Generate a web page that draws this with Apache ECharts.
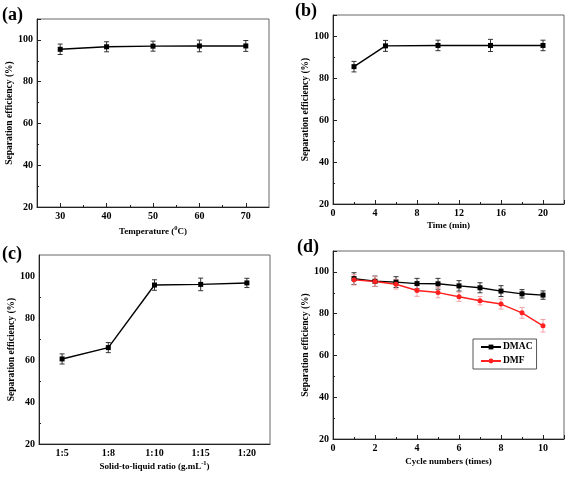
<!DOCTYPE html>
<html><head><meta charset="utf-8">
<script src="https://cdn.jsdelivr.net/npm/echarts@6/dist/echarts.min.js"></script>
<style>html,body{margin:0;padding:0;background:#fff}#c{width:567px;height:477px}</style>
</head><body><div id="c"></div>
<script>
// (a) Temperature
const tempX = [30, 40, 50, 60, 70];
const tempMinorTicks = [35, 45, 55, 65];
const tempY = [95.5, 96.7, 97.0, 97.1, 97.1];
const tempErr = [2.5, 2.4, 2.4, 2.8, 2.6];
// (b) Time
const timeX = [2, 5, 10, 15, 20];
const timeY = [85.4, 95.3, 95.5, 95.5, 95.5];
const timeErr = [2.5, 2.6, 2.5, 2.9, 2.5];
// (c) Solid-to-liquid ratio
const ratioCats = ['1:5', '1:8', '1:10', '1:15', '1:20'];
const ratioY = [60.5, 65.9, 95.7, 96.0, 96.7];
const ratioErr = [2.4, 2.4, 2.5, 3.0, 2.2];
// (d) Cycles
const cycleX = [1, 2, 3, 4, 5, 6, 7, 8, 9, 10];
const dmacY = [96.8, 95.5, 95.1, 94.4, 94.3, 93.3, 92.4, 90.8, 89.5, 88.9];
const dmacErr = [2.8, 2.5, 2.6, 2.5, 2.6, 2.5, 2.4, 2.6, 2.0, 2.0];
const dmfY = [96.2, 95.4, 94.1, 91.1, 90.1, 88.1, 86.2, 84.6, 80.4, 74.2];
const dmfErr = [2.5, 2.3, 2.3, 2.8, 2.5, 2.2, 2.0, 2.4, 2.6, 3.0];
const yTickLabels = [20, 40, 60, 80, 100];

const FF = '"Liberation Serif","Times New Roman",serif';
const chart = echarts.init(document.getElementById('c'), null, {renderer: 'canvas'});

function errSeries(xi, xs, ys, es, color, z) {
  return {
    type: 'custom', xAxisIndex: xi, yAxisIndex: xi, z: z, silent: true,
    data: xs.map((x, i) => [x, ys[i] - es[i], ys[i] + es[i]]),
    renderItem: function (params, api) {
      const x = api.value(0);
      const p1 = api.coord([x, api.value(1)]);
      const p2 = api.coord([x, api.value(2)]);
      const w = 2.5, st = {stroke: color, lineWidth: 1};
      return {type: 'group', children: [
        {type: 'line', shape: {x1: p1[0], y1: p1[1], x2: p2[0], y2: p2[1]}, style: st},
        {type: 'line', shape: {x1: p1[0] - w, y1: p1[1], x2: p1[0] + w, y2: p1[1]}, style: st},
        {type: 'line', shape: {x1: p2[0] - w, y1: p2[1], x2: p2[0] + w, y2: p2[1]}, style: st}
      ]};
    }
  };
}
function lineSeries(xi, name, xs, ys, color, symbol) {
  return {
    type: 'line', name: name, xAxisIndex: xi, yAxisIndex: xi, z: 3,
    data: xs.map((x, i) => [x, ys[i]]),
    symbol: symbol, symbolSize: 5, showSymbol: true,
    lineStyle: {color: color, width: 1.4}, itemStyle: {color: color}
  };
}
const lbl = {fontFamily: FF, fontWeight: 'bold', fontSize: 10, color: '#000', margin: 4};
const nameStyle = {fontFamily: FF, fontWeight: 'bold', fontSize: 9, color: '#000',
  rich: {n: {fontFamily: FF, fontWeight: 'bold', fontSize: 9, color: '#000'},
         s: {fontFamily: FF, fontWeight: 'bold', fontSize: 6.5, color: '#000', padding: [0, 0, 6, 0]}}};
const yNameStyle = {fontFamily: FF, fontWeight: 'bold', fontSize: 9.5, color: '#000'};
const axLine = {show: true, lineStyle: {color: '#222', width: 1}};
function yAxis(gi) {
  return {
    type: 'value', gridIndex: gi, min: 20, max: 110, interval: 20,
    name: 'Separation efficiency (%)', nameLocation: 'middle', nameGap: 21, nameTextStyle: yNameStyle,
    axisLine: axLine, splitLine: {show: false},
    axisTick: {inside: true, length: 4, lineStyle: {color: '#222'}},
    minorTick: {show: true, splitNumber: 2, length: 2, lineStyle: {color: '#222'}},
    axisLabel: Object.assign({}, lbl, {formatter: v => (yTickLabels.indexOf(v) >= 0 ? String(v) : '')})
  };
}
const grids = [
  {left: 37, top: 19, width: 232, height: 188},
  {left: 333, top: 15, width: 231, height: 189},
  {left: 39, top: 255, width: 231, height: 189},
  {left: 333, top: 251, width: 231, height: 188}
].map(g => Object.assign(g, {show: true, borderColor: '#666', borderWidth: 1, backgroundColor: 'transparent'}));

const option = {
  animation: false,
  backgroundColor: '#fff',
  grid: grids,
  legend: {
    data: ['DMAC', 'DMF'], orient: 'vertical', left: 473, top: 339,
    itemWidth: 20, itemHeight: 6, itemGap: 4, padding: [3, 4, 3, 7],
    borderColor: '#555', borderWidth: 1, borderRadius: 0,
    textStyle: {fontFamily: FF, fontWeight: 'bold', fontSize: 9.5, color: '#000', padding: [0, 0, 0, -3]}
  },
  xAxis: [
    {type: 'value', gridIndex: 0, min: 25, max: 75,
     name: '{n|Temperature (}{s|0}{n|C)}', nameLocation: 'middle', nameGap: 18, nameTextStyle: nameStyle,
     axisLine: axLine, splitLine: {show: false},
     axisTick: {inside: true, length: 4, customValues: tempX, lineStyle: {color: '#222'}},
     axisLabel: Object.assign({}, lbl, {customValues: tempX})},
    {type: 'value', gridIndex: 1, min: 0, max: 22, interval: 4,
     name: 'Time (min)', nameLocation: 'middle', nameGap: 17, nameTextStyle: nameStyle,
     axisLine: axLine, splitLine: {show: false},
     axisTick: {inside: true, length: 4, lineStyle: {color: '#222'}},
     minorTick: {show: true, splitNumber: 2, length: 2, lineStyle: {color: '#222'}},
     axisLabel: Object.assign({}, lbl, {formatter: v => (v % 4 === 0 ? String(v) : '')})},
    {type: 'category', gridIndex: 2, data: ratioCats, boundaryGap: true,
     name: '{n|Solid-to-liquid ratio (g.mL}{s|-1}{n|)}', nameLocation: 'middle', nameGap: 16, nameTextStyle: nameStyle,
     axisLine: axLine, splitLine: {show: false},
     axisTick: {inside: true, length: 3, lineStyle: {color: '#222'}},
     axisLabel: lbl},
    {type: 'value', gridIndex: 3, min: 0, max: 11, interval: 2,
     name: 'Cycle numbers (times)', nameLocation: 'middle', nameGap: 18, nameTextStyle: nameStyle,
     axisLine: axLine, splitLine: {show: false},
     axisTick: {inside: true, length: 4, lineStyle: {color: '#222'}},
     minorTick: {show: true, splitNumber: 2, length: 2, lineStyle: {color: '#222'}},
     axisLabel: Object.assign({}, lbl, {formatter: v => (v % 2 === 0 ? String(v) : '')})},
    {type: 'value', gridIndex: 0, min: 25, max: 75, position: 'bottom',
     axisLine: {show: false}, splitLine: {show: false},
     axisTick: {inside: true, length: 2, customValues: tempMinorTicks, lineStyle: {color: '#222'}},
     axisLabel: {show: false}}
  ],
  yAxis: [yAxis(0), yAxis(1), yAxis(2), yAxis(3)],
  graphic: [
    {type: 'text', left: 2, top: 6, style: {text: '(a)', font: 'bold 18px ' + FF, fill: '#000'}},
    {type: 'text', left: 295, top: 2, style: {text: '(b)', font: 'bold 18px ' + FF, fill: '#000'}},
    {type: 'text', left: 2, top: 245, style: {text: '(c)', font: 'bold 18px ' + FF, fill: '#000'}},
    {type: 'text', left: 297, top: 238, style: {text: '(d)', font: 'bold 18px ' + FF, fill: '#000'}}
  ],
  series: [
    errSeries(0, tempX, tempY, tempErr, '#333', 2),
    lineSeries(0, 'temp', tempX, tempY, '#000', 'rect'),
    errSeries(1, timeX, timeY, timeErr, '#333', 2),
    lineSeries(1, 'time', timeX, timeY, '#000', 'rect'),
    errSeries(2, ratioCats, ratioY, ratioErr, '#333', 2),
    lineSeries(2, 'ratio', ratioCats, ratioY, '#000', 'rect'),
    errSeries(3, cycleX, dmacY, dmacErr, '#333', 2),
    errSeries(3, cycleX, dmfY, dmfErr, '#f4a0a8', 2),
    lineSeries(3, 'DMAC', cycleX, dmacY, '#000', 'rect'),
    lineSeries(3, 'DMF', cycleX, dmfY, '#ff2020', 'circle')
  ]
};
chart.setOption(option);
</script></body></html>
